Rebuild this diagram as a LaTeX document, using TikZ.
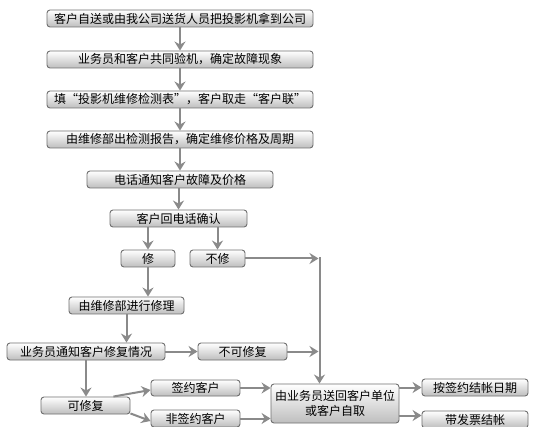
\documentclass[tikz,border=0pt]{standalone}
\usepackage{fontspec}
\setmainfont{Noto Sans CJK SC}
\usetikzlibrary{arrows.meta,calc}
\definecolor{boxline}{HTML}{707070}
\definecolor{boxbot}{HTML}{BEBEBE}
\definecolor{arrowgray}{HTML}{8A8A8A}
\tikzset{
  stepbox/.style={draw=boxline, line width=0.9pt, rounded corners=3pt,
    top color=white, bottom color=boxbot, inner sep=0pt,
    minimum height=17pt, font=\fontsize{12}{15}\selectfont, align=center},
  flow/.style={draw=arrowgray, line width=2pt,
    -{Stealth[length=9pt,width=11pt,inset=3pt]}}
}
\begin{document}
\begin{tikzpicture}[x=1pt,y=-1pt]
\useasboundingbox (0,0) rectangle (551,427);
\clip (0,0) rectangle (551,427);
\fill[white] (0,0) rectangle (551,427);

\node[stepbox, minimum width=266pt] (n1) at (180,18.5) {客户自送或由我公司送货人员把投影机拿到公司};
\node[stepbox, minimum width=266pt] (n2) at (180,59.5) {业务员和客户共同验机，确定故障现象};
\node[stepbox, minimum width=266pt] (n3) at (180,99.5) {填“投影机维修检测表”，客户取走“客户联”};
\node[stepbox, minimum width=266pt] (n4) at (180,139.5) {由维修部出检测报告，确定维修价格及周期};
\node[stepbox, minimum width=186pt] (n5) at (180,179.5) {电话通知客户故障及价格};
\node[stepbox, minimum width=137pt] (n6) at (178.5,218.5) {客户回电话确认};
\node[stepbox, minimum width=54pt] (xiu) at (148,258.5) {修};
\node[stepbox, minimum width=55pt] (buxiu) at (217.5,258.5) {不修};
\node[stepbox, minimum width=115pt] (repair) at (126.5,305.5) {由维修部进行修理};
\node[stepbox, minimum width=158pt] (notify) at (86,351.5) {业务员通知客户修复情况};
\node[stepbox, minimum width=89pt] (bukexiu) at (242.5,351.5) {不可修复};
\node[stepbox, minimum width=89pt] (kexiu) at (85.5,405.5) {可修复};
\node[stepbox, minimum width=89pt, minimum height=16pt] (qianyue) at (195.5,388) {签约客户};
\node[stepbox, minimum width=89pt] (feiqianyue) at (195.5,418.5) {非签约客户};
\node[stepbox, minimum width=128pt, minimum height=39pt] (final) at (335,403.5) {由业务员送回客户单位\\或客户自取};
\node[stepbox, minimum width=106pt] (bydate) at (475,387.5) {按签约结帐日期};
\node[stepbox, minimum width=106pt] (invoice) at (475,419.5) {带发票结帐};

\coordinate (j1) at (319.5,258.5);
\coordinate (j2) at (319.5,351.5);

\draw[flow] (n1.south) -- (n2.north);
\draw[flow] (n2.south) -- (n3.north);
\draw[flow] (n3.south) -- (n4.north);
\draw[flow] (n4.south) -- (n5.north);
\draw[flow] (n5.south -| n6) -- (n6.north);
\draw[flow] (n6.south -| xiu) -- (xiu.north);
\draw[flow] (n6.south -| buxiu) -- (buxiu.north);
\draw[flow] (xiu.south) -- (xiu.south |- repair.north);
\draw[flow] (repair.south) -- (repair.south |- notify.north);
\draw[flow] (notify.south) -- (notify.south |- kexiu.north);
\draw[flow] (notify.east) -- (bukexiu.west);
\draw[flow] (buxiu.east) -- ($(j1)+(-1,0)$);
\draw[flow] (bukexiu.east) -- ($(j2)+(-1,0)$);
\draw[flow] ($(j1)+(0,-1)$) -- (j1 |- final.north);
\draw[flow] ($(kexiu.north east)+(-17,0)$) -- ($(qianyue.west)+(0,2)$);
\draw[flow] ($(kexiu.south east)+(0,-1)$) -- ($(feiqianyue.west)+(0,2.5)$);
\draw[flow] (qianyue.east) -- (qianyue.east -| final.west);
\draw[flow] (feiqianyue.east) -- (feiqianyue.east -| final.west);
\draw[flow] (final.east |- bydate.west) -- (bydate.west);
\draw[flow] ($(final.east |- invoice.west)+(0,-4)$) -- ($(invoice.west)+(0,-4)$);
\end{tikzpicture}
\end{document}
